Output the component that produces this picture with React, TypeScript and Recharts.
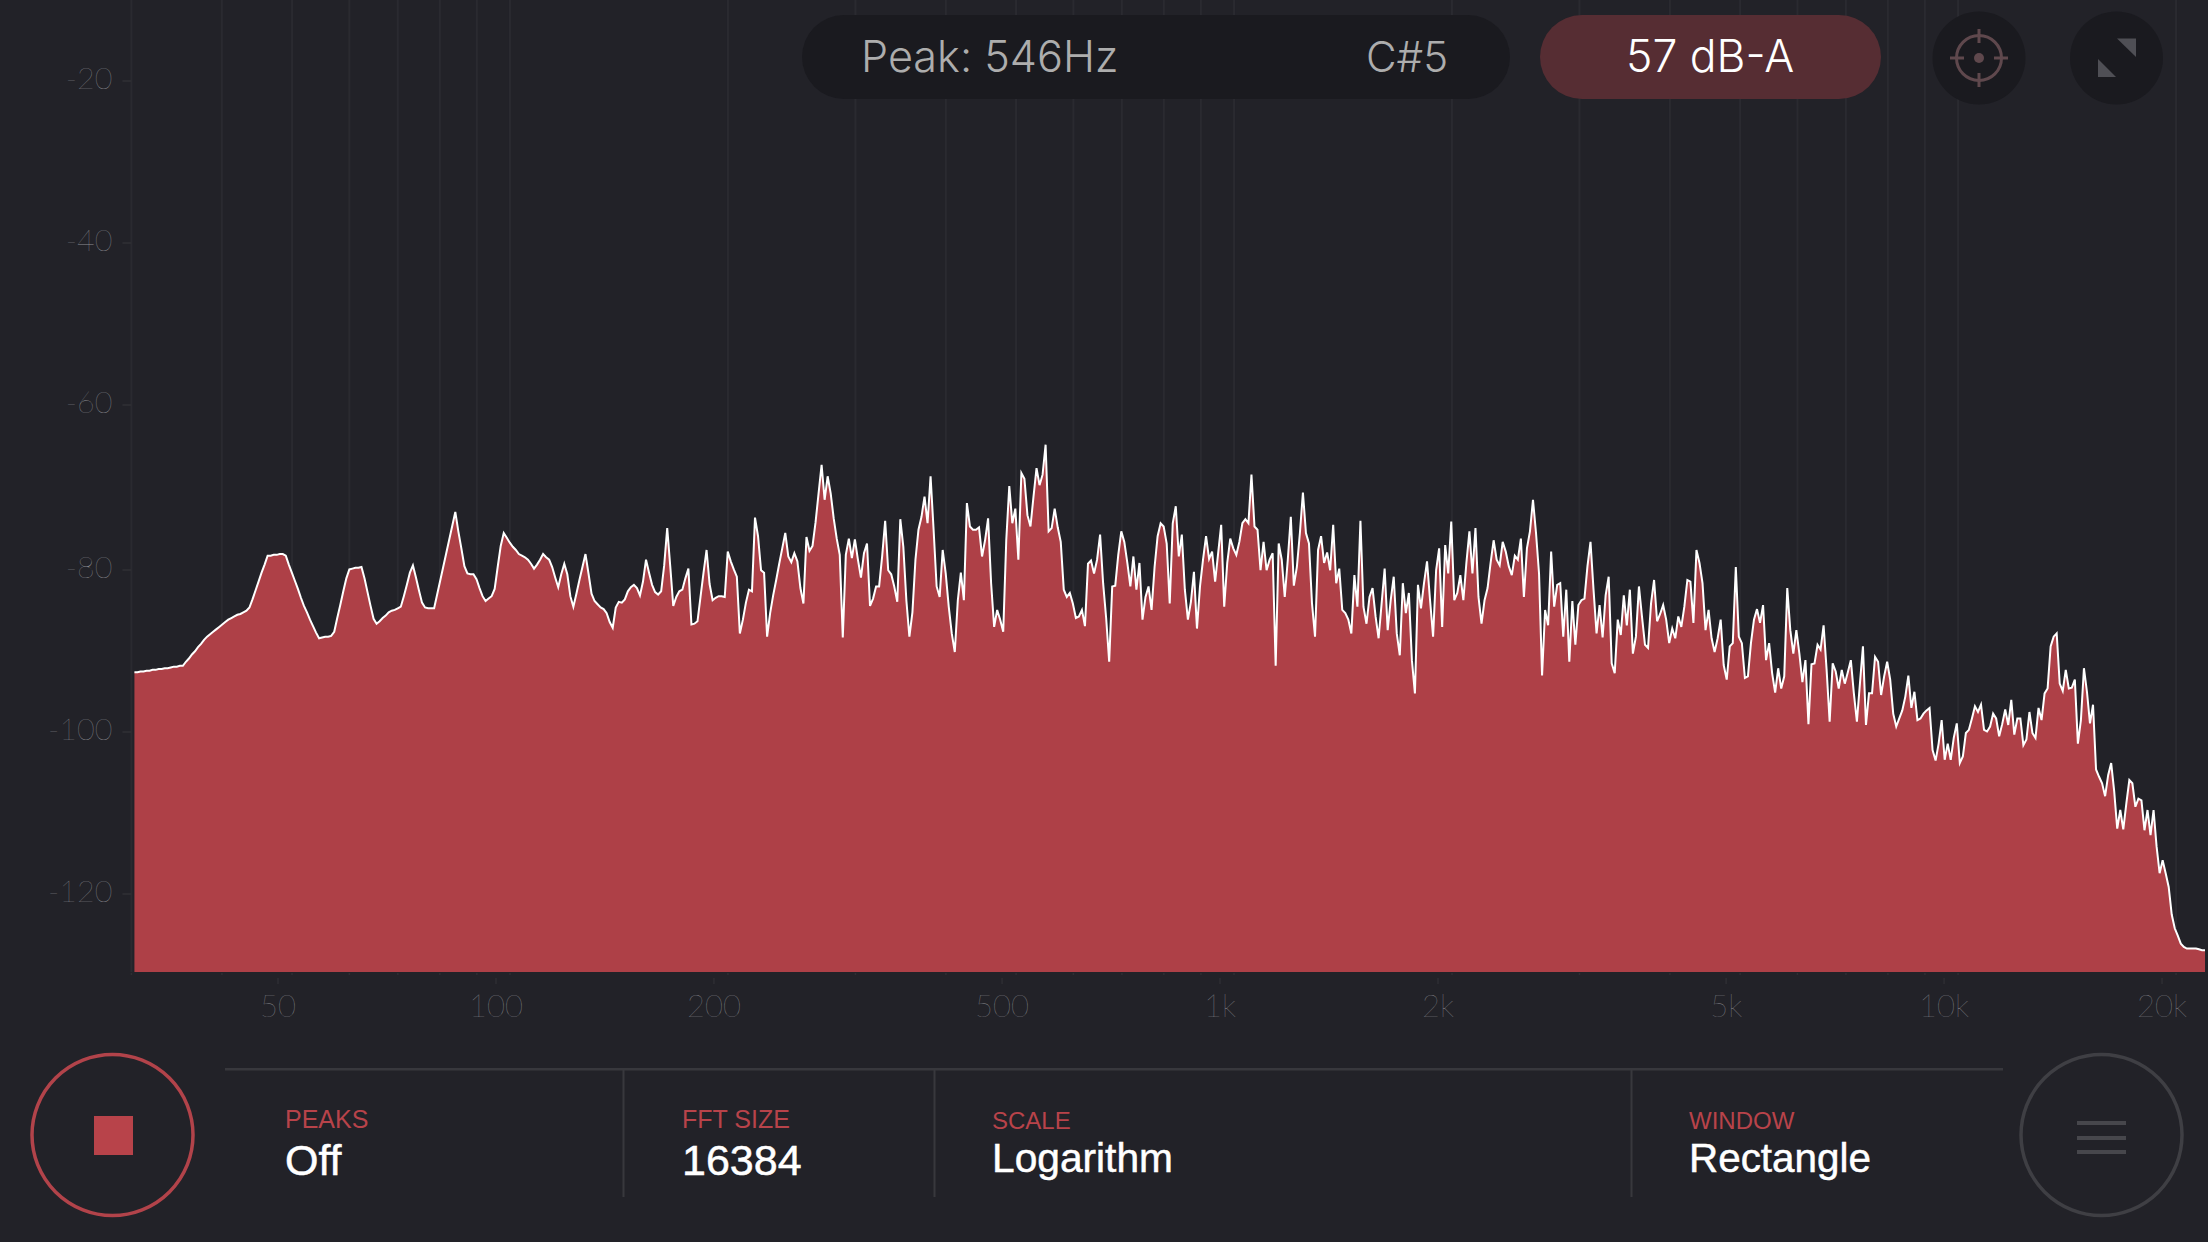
import { AreaChart, Area, XAxis, YAxis, CartesianGrid } from "recharts";

// analyser output, one value per 1/72 octave starting just above 30 Hz
const levels: number[] = [
  -93.0, -93.0, -92.9, -92.9, -92.8, -92.8, -92.7, -92.7, -92.6, -92.6, -92.5, -92.5, -92.4, -92.3, -92.3, -92.2, -92.2, -91.7, -91.3, -90.8, -90.4, -89.9, -89.5, -89.0, -88.6, -88.3, -88.0, -87.7, -87.4, -87.1, -86.8, -86.5, -86.3,
  -86.1, -85.9, -85.8, -85.6, -85.4, -85.0, -84.0, -82.9, -81.8, -80.7, -79.7, -78.6, -78.6, -78.5, -78.5, -78.4, -78.4, -78.6, -79.7, -80.7, -81.7, -82.7, -83.8, -84.8, -85.6, -86.5, -87.3, -88.1, -88.8, -88.7, -88.6, -88.6, -88.5,
  -88.0, -86.3, -84.7, -83.0, -81.4, -80.3, -80.2, -80.1, -80.1, -80.0, -81.4, -83.1, -84.8, -86.4, -87.0, -86.7, -86.3, -86.0, -85.6, -85.4, -85.3, -85.1, -84.9, -83.6, -82.2, -80.7, -79.8, -81.3, -82.9, -84.4, -85.0, -85.1, -85.1,
  -85.1, -83.4, -81.7, -80.0, -78.3, -76.6, -74.9, -73.2, -75.6, -77.7, -79.9, -80.8, -80.9, -80.9, -81.5, -82.6, -83.6, -84.2, -83.9, -83.6, -82.7, -80.0, -77.4, -75.8, -76.4, -77.0, -77.5, -77.9, -78.4, -78.6, -78.8, -79.1, -79.6,
  -80.2, -79.7, -79.1, -78.4, -78.8, -79.1, -80.0, -81.3, -82.5, -80.9, -79.6, -80.9, -83.6, -84.9, -83.3, -81.6, -80.0, -78.4, -80.8, -83.3, -84.2, -84.6, -85.0, -85.2, -85.7, -86.8, -87.5, -85.0, -84.3, -84.4, -84.0, -83.0, -82.5,
  -82.2, -82.6, -83.5, -81.8, -79.1, -80.7, -82.2, -83.1, -83.4, -83.0, -79.8, -75.2, -79.9, -84.8, -83.7, -83.0, -82.8, -81.4, -80.2, -87.1, -87.0, -86.7, -83.7, -80.7, -77.9, -82.1, -84.1, -83.8, -83.6, -83.6, -83.7, -78.1, -79.3,
  -80.3, -81.2, -88.2, -86.5, -84.4, -82.8, -83.0, -73.9, -76.2, -80.4, -80.7, -88.6, -85.7, -83.5, -81.6, -79.6, -77.7, -75.8, -78.7, -79.4, -78.3, -79.3, -82.6, -84.5, -76.3, -78.0, -77.4, -74.5, -70.9, -67.4, -71.7, -68.8, -70.9,
  -74.0, -76.5, -78.5, -88.7, -78.5, -76.5, -78.9, -76.6, -79.1, -81.3, -78.3, -77.1, -84.8, -83.9, -82.4, -82.4, -78.7, -74.3, -80.4, -80.9, -82.4, -84.3, -74.1, -77.5, -84.1, -88.6, -85.6, -79.1, -75.4, -73.8, -71.3, -74.6, -68.8,
  -75.4, -82.4, -83.7, -77.9, -80.8, -84.9, -88.2, -90.5, -84.1, -80.7, -84.1, -72.1, -75.0, -75.4, -75.4, -75.1, -78.7, -76.7, -74.0, -82.0, -87.4, -85.3, -86.5, -88.0, -76.7, -70.0, -74.6, -72.8, -79.1, -68.4, -69.1, -73.6, -75.0,
  -71.3, -67.8, -69.9, -68.6, -64.9, -75.6, -75.2, -72.8, -75.1, -76.9, -82.8, -83.7, -83.2, -84.5, -86.3, -86.1, -85.3, -87.3, -79.6, -79.2, -80.8, -79.1, -76.0, -82.0, -86.3, -91.7, -82.4, -82.3, -78.5, -75.6, -76.9, -79.5, -82.4,
  -78.7, -82.8, -79.5, -86.5, -83.7, -82.4, -85.3, -80.0, -76.2, -74.6, -75.0, -77.1, -84.5, -74.6, -72.5, -78.7, -76.0, -82.8, -86.5, -84.3, -80.6, -87.6, -82.4, -79.1, -76.2, -79.0, -78.1, -81.8, -78.3, -74.8, -84.9, -79.5, -76.5,
  -77.7, -78.5, -76.9, -74.6, -74.1, -74.6, -68.6, -75.0, -75.4, -80.4, -76.9, -80.4, -79.1, -78.3, -92.2, -77.1, -79.1, -83.7, -79.1, -73.8, -82.3, -80.0, -75.8, -70.8, -75.8, -77.1, -84.5, -88.6, -77.9, -76.2, -79.5, -78.2, -80.4,
  -74.8, -82.0, -80.2, -85.3, -85.7, -86.5, -88.2, -81.0, -84.9, -74.3, -84.9, -87.0, -83.7, -82.6, -86.1, -88.8, -84.5, -80.2, -87.8, -84.1, -81.2, -88.2, -90.9, -82.0, -85.7, -83.2, -91.5, -95.6, -82.2, -85.1, -82.0, -79.3, -84.1,
  -88.6, -80.4, -77.7, -87.4, -77.3, -80.8, -74.4, -84.1, -83.2, -81.0, -84.1, -79.5, -75.6, -80.8, -75.2, -83.7, -87.0, -84.1, -82.6, -79.5, -76.7, -79.1, -79.8, -76.9, -78.1, -79.9, -81.0, -78.6, -79.1, -76.5, -83.7, -77.7, -75.6,
  -71.7, -75.8, -80.8, -93.4, -85.3, -87.2, -78.1, -84.9, -82.2, -82.0, -88.6, -82.8, -91.7, -84.2, -89.6, -84.7, -84.1, -83.9, -79.9, -76.9, -82.8, -88.2, -84.7, -88.7, -83.5, -81.2, -91.9, -93.1, -86.5, -88.4, -83.5, -87.2, -82.8,
  -90.7, -88.6, -82.4, -86.1, -89.6, -90.0, -84.5, -81.6, -86.7, -85.8, -84.7, -86.5, -89.4, -87.6, -88.8, -86.1, -87.4, -84.9, -81.6, -81.8, -86.9, -77.9, -79.5, -82.0, -87.8, -85.3, -88.8, -90.5, -88.8, -86.5, -92.1, -93.9, -89.8,
  -89.4, -80.0, -88.6, -89.4, -93.7, -93.5, -89.4, -86.5, -85.2, -86.9, -84.7, -91.5, -89.4, -93.1, -95.5, -92.5, -95.0, -93.5, -82.6, -87.8, -90.7, -87.8, -90.7, -94.2, -91.5, -99.4, -92.0, -91.9, -89.6, -90.2, -87.2, -92.7, -99.1,
  -91.9, -92.9, -95.0, -92.7, -94.4, -93.0, -91.5, -95.6, -99.1, -94.4, -89.8, -99.5, -95.6, -95.6, -91.1, -91.7, -95.8, -93.5, -91.7, -93.9, -98.1, -99.7, -98.7, -97.7, -96.0, -93.4, -97.4, -95.4, -98.9, -98.7, -98.1, -97.7, -97.4,
  -102.6, -103.9, -101.8, -98.9, -103.8, -101.8, -103.8, -101.1, -99.3, -104.2, -103.4, -100.5, -100.1, -98.7, -97.2, -97.9, -97.0, -100.1, -100.3, -99.7, -98.1, -98.7, -100.9, -99.4, -97.6, -99.5, -96.4, -100.7, -98.7, -98.7, -102.0, -101.3, -97.9,
  -100.5, -101.1, -97.4, -98.9, -95.6, -95.0, -89.8, -88.6, -88.2, -94.4, -95.3, -92.7, -95.0, -94.9, -93.9, -101.8, -98.9, -92.5, -95.4, -99.3, -97.0, -105.0, -105.9, -106.7, -108.3, -105.7, -104.2, -107.7, -112.3, -110.0, -112.4, -109.2, -106.3,
  -106.7, -109.6, -108.6, -108.8, -112.5, -110.0, -113.1, -110.0, -114.5, -117.8, -116.2, -117.8, -119.5, -122.9, -124.6, -125.5, -126.5, -126.9, -127.1, -127.1, -127.1, -127.1, -127.2, -127.3, -127.3,
];

const gridFreqs = [30, 40, 50, 60, 70, 80, 90, 100, 200, 300, 400, 500, 600, 700, 800, 900, 1000, 2000, 3000, 4000, 5000, 6000, 7000, 8000, 9000, 10000, 20000];
const freqLabels: Record<number, string> = { 50: "50", 100: "100", 200: "200", 500: "500", 1000: "1k", 2000: "2k", 5000: "5k", 10000: "10k", 20000: "20k" };
const dbTicks = [-20, -40, -60, -80, -100, -120];

const data = levels.map((level, i) => ({ freq: 30 * Math.pow(2, (i + 1) / 72), level }));

const BG = "#222228";
const RED = "#ae4047";
const AXIS_TEXT = "#909095";
const HAIR = "Lato, Inter, sans-serif";
const THIN = "Inter, Lato, sans-serif";
const HELV = "'Liberation Sans', Arial, sans-serif";

// the app prints its frequency labels a little left of the real grid line
const FreqTick = ({ x, y, payload }: any) => {
  const label = freqLabels[payload.value];
  return (
    <g>
      <line x1={x} x2={x} y1={y + 1} y2={y + 3} stroke="#2e2e33" strokeWidth={1.5} />
      {label && (
        <>
          <line x1={x - 14} x2={x - 14} y1={y + 6} y2={y + 12} stroke="#2e2e33" strokeWidth={1.5} />
          <text x={x - 14} y={y + 45} textAnchor="middle" fill={AXIS_TEXT} fontSize={31} fontWeight={100} fontFamily={HAIR}>
            {label}
          </text>
        </>
      )}
    </g>
  );
};

// the lower dB labels sit a few pixels under where the scale puts them
const LevelTick = ({ x, y, payload }: any) => {
  const lineY = y + (payload.value <= -80 ? 3 : 0);
  return (
    <g>
      <line x1={x + 10} x2={x + 19} y1={lineY} y2={lineY} stroke="#303035" strokeWidth={1.5} />
      <text x={x} y={lineY + 8} textAnchor="end" fill={AXIS_TEXT} fontSize={30.5} fontWeight={100} fontFamily={HAIR}>
        {payload.value}
      </text>
    </g>
  );
};

const valueStyle = { stroke: "#ffffff", strokeWidth: 0.5 };

const Overlay = () => (
  <svg width={2208} height={1242} style={{ position: "absolute", left: 0, top: 0 }}>
    {/* top pills */}
    <rect x={802} y={15} width={708} height={84} rx={42} fill="#1a1a1f" />
    <text x={861} y={72} fill="#adadad" fontSize={43.2} fontWeight={300} fontFamily={THIN}>Peak: 546Hz</text>
    <text x={1366} y={72} fill="#adadad" fontSize={42} fontWeight={300} fontFamily={THIN}>C#5</text>
    <rect x={1540} y={15} width={341} height={84} rx={42} fill="#562d33" />
    <text x={1626} y={72} fill="#ffffff" fontSize={44.5} fontWeight={300} fontFamily={THIN}>57 dB-A</text>

    {/* crosshair button */}
    <circle cx={1979} cy={58} r={46.5} fill="#1a1a1f" />
    <g stroke="#5f484d" strokeWidth={3} fill="none">
      <circle cx={1979} cy={58} r={22.5} />
      <line x1={1979} x2={1979} y1={29} y2={43} />
      <line x1={1979} x2={1979} y1={73} y2={87} />
      <line x1={1950} x2={1964} y1={58} y2={58} />
      <line x1={1994} x2={2008} y1={58} y2={58} />
    </g>
    <circle cx={1979} cy={58} r={5} fill="#5f484d" />

    {/* expand button */}
    <circle cx={2116.5} cy={58} r={46.5} fill="#1a1a1f" />
    <polygon points="2117,38.5 2136,38.5 2136,57" fill="#4f4f55" />
    <polygon points="2098,59 2098,77 2116,77" fill="#4f4f55" />

    {/* record button */}
    <circle cx={112.5} cy={1135} r={80.5} fill="none" stroke="#b2434a" strokeWidth={3.5} />
    <rect x={94} y={1116} width={39} height={39} fill="#b8434a" />

    {/* settings strip */}
    <rect x={225} y={1068} width={1778} height={2.5} fill="#38383d" />
    <rect x={622.5} y={1069} width={2} height={128} fill="#38383d" />
    <rect x={933.5} y={1069} width={2} height={128} fill="#38383d" />
    <rect x={1630.5} y={1069} width={2} height={128} fill="#38383d" />

    <text x={285} y={1128} fill="#b8434a" fontSize={25} fontFamily={HELV}>PEAKS</text>
    <text x={285} y={1175} fill="#ffffff" fontSize={43} fontFamily={HELV} {...valueStyle}>Off</text>
    <text x={682} y={1128} fill="#b8434a" fontSize={25} fontFamily={HELV}>FFT SIZE</text>
    <text x={682} y={1175} fill="#ffffff" fontSize={43} fontFamily={HELV} {...valueStyle}>16384</text>
    <text x={992} y={1129} fill="#b8434a" fontSize={24} fontFamily={HELV}>SCALE</text>
    <text x={992} y={1172} fill="#ffffff" fontSize={40.7} fontFamily={HELV} {...valueStyle}>Logarithm</text>
    <text x={1689} y={1129} fill="#b8434a" fontSize={24} fontFamily={HELV}>WINDOW</text>
    <text x={1689} y={1172} fill="#ffffff" fontSize={40.4} fontFamily={HELV} {...valueStyle}>Rectangle</text>

    {/* menu button */}
    <circle cx={2101.5} cy={1135} r={80.5} fill="none" stroke="#3f3f44" strokeWidth={3.5} />
    <rect x={2077} y={1121} width={49} height={4} fill="#47474c" />
    <rect x={2077} y={1136} width={49} height={4} fill="#47474c" />
    <rect x={2077} y={1150} width={49} height={4} fill="#47474c" />
  </svg>
);

export default function App() {
  return (
    <div style={{ position: "fixed", left: 0, top: 0, width: 2208, height: 1242, background: BG, overflow: "hidden" }}>
      <AreaChart width={2208} height={1242} data={data} margin={{ top: 0, right: 1.3, left: 0, bottom: 0 }}>
        <CartesianGrid horizontal={false} stroke="#2a2a30" strokeWidth={2} syncWithTicks />
        <XAxis
          dataKey="freq"
          type="number"
          scale="log"
          domain={[30, 22050]}
          ticks={gridFreqs}
          interval={0}
          height={270}
          axisLine={false}
          tickLine={false}
          tickSize={0}
          tickMargin={0}
          tick={<FreqTick />}
        />
        <YAxis
          type="number"
          domain={[-130, -10]}
          ticks={dbTicks}
          width={131.4}
          axisLine={false}
          tickLine={false}
          tickSize={9}
          tickMargin={10}
          tick={<LevelTick />}
        />
        <Area
          dataKey="level"
          type="linear"
          baseValue={-130}
          fill={RED}
          fillOpacity={1}
          stroke="#ffffff"
          strokeWidth={2}
          dot={false}
          activeDot={false}
          isAnimationActive={false}
        />
      </AreaChart>
      <Overlay />
    </div>
  );
}
